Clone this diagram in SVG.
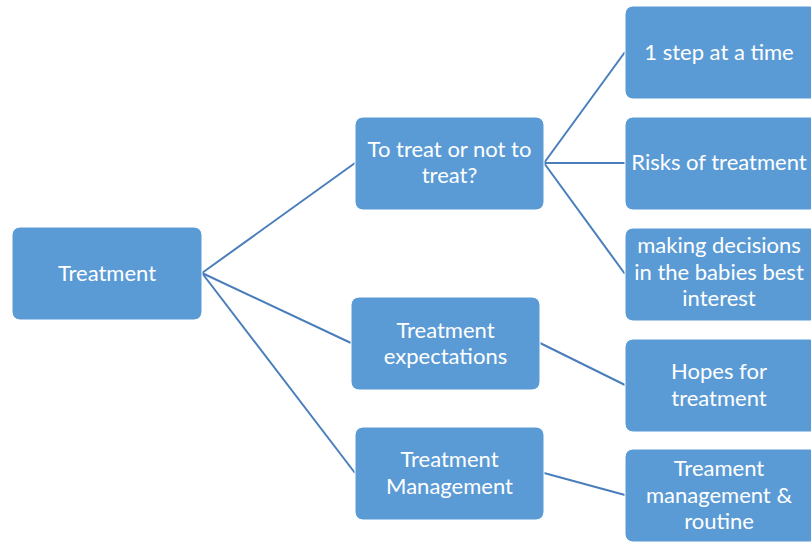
<svg xmlns="http://www.w3.org/2000/svg" width="811" height="543" viewBox="0 0 811 543">
  <style>
    .box { fill: #5B9BD5; stroke: #FFFFFF; stroke-width: 1; }
    .lbl { fill: #FFFFFF; font-family: Lato, "Open Sans", "Liberation Sans", sans-serif; font-size: 22px; text-anchor: middle; }
    .link { stroke: #4A7EBB; stroke-width: 2; fill: none; }
  </style>
  <rect width="811" height="543" fill="#FFFFFF"/>

  <g id="connectors">
    <line class="link" x1="202" y1="273" x2="355" y2="163"/>
    <line class="link" x1="202" y1="273" x2="351" y2="343"/>
    <line class="link" x1="202" y1="273" x2="355" y2="473"/>
    <line class="link" x1="544" y1="163" x2="625" y2="52"/>
    <line class="link" x1="544" y1="163" x2="625" y2="163"/>
    <line class="link" x1="544" y1="163" x2="625" y2="274"/>
    <line class="link" x1="540" y1="343" x2="625" y2="385"/>
    <line class="link" x1="544" y1="473" x2="625" y2="495"/>
  </g>

  <g id="treatment">
    <rect class="box" x="12" y="227" width="190" height="93" rx="8"/>
    <text class="lbl" x="107" y="281">Treatment</text>
  </g>

  <g id="to-treat">
    <rect class="box" x="355" y="117" width="189" height="93" rx="8"/>
    <text class="lbl" x="449.5" y="157">To treat or not to</text>
    <text class="lbl" x="449.5" y="183">treat?</text>
  </g>

  <g id="expectations">
    <rect class="box" x="351" y="297" width="189" height="93" rx="8"/>
    <text class="lbl" x="445.5" y="338">Treatment</text>
    <text class="lbl" x="445.5" y="364">expectations</text>
  </g>

  <g id="management">
    <rect class="box" x="355" y="427" width="189" height="93" rx="8"/>
    <text class="lbl" x="449.5" y="467">Treatment</text>
    <text class="lbl" x="449.5" y="494">Management</text>
  </g>

  <g id="one-step">
    <rect class="box" x="625" y="6" width="193" height="93" rx="8"/>
    <text class="lbl" x="719" y="60">1 step at a time</text>
  </g>

  <g id="risks">
    <rect class="box" x="625" y="117" width="193" height="93" rx="8"/>
    <text class="lbl" x="719" y="170">Risks of treatment</text>
  </g>

  <g id="decisions">
    <rect class="box" x="625" y="228" width="193" height="93" rx="8"/>
    <text class="lbl" x="719" y="253">making decisions</text>
    <text class="lbl" x="719" y="280">in the babies best</text>
    <text class="lbl" x="719" y="306">interest</text>
  </g>

  <g id="hopes">
    <rect class="box" x="625" y="339" width="193" height="93" rx="8"/>
    <text class="lbl" x="719" y="379">Hopes for</text>
    <text class="lbl" x="719" y="406">treatment</text>
  </g>

  <g id="routine">
    <rect class="box" x="625" y="449" width="193" height="93" rx="8"/>
    <text class="lbl" x="719" y="476">Treament</text>
    <text class="lbl" x="719" y="503">management &amp;</text>
    <text class="lbl" x="719" y="529">routine</text>
  </g>
</svg>
